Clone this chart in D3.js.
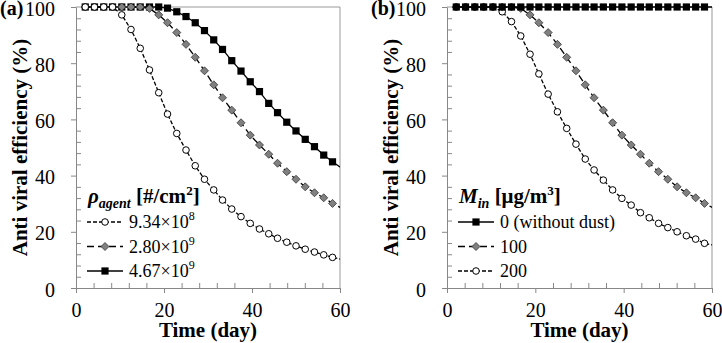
<!DOCTYPE html>
<html>
<head>
<meta charset="utf-8">
<script src="https://cdn.jsdelivr.net/npm/d3@7"></script>
<style>
  body { margin: 0; background: #fff; }
  svg { display: block; }
  svg text { font-family: "Liberation Serif", "Times New Roman", Tinos, "DejaVu Serif", serif; }
</style>
</head>
<body>
<div class="canvas"></div>
<script>
// time points (day) - last one only carries the line to the frame edge
const days = [2.1, 4.2, 6.3, 8.3, 10.4, 12.5, 14.6, 16.7, 18.8, 20.8, 22.9, 25.0, 27.1, 29.2, 31.3,
  33.3, 35.4, 37.5, 39.6, 41.7, 43.8, 45.8, 47.9, 50.0, 52.1, 54.2, 56.3, 58.3, 60.4];

// (a) agent density
const agentLow = [100, 100, 100, 100, 97.2, 92.0, 85.3, 77.6, 69.5, 61.9, 55.0, 49.1, 43.5, 38.7, 34.9,
  31.3, 28.1, 25.4, 23.0, 21.0, 19.3, 17.7, 16.3, 15.0, 13.8, 12.8, 11.8, 10.9, 10.2];
const agentMid = [100, 100, 100, 100, 100, 100, 100, 99.5, 97.2, 94.4, 90.9, 86.7, 82.1, 77.3, 72.3,
  67.7, 63.3, 58.8, 54.4, 50.9, 47.6, 44.4, 41.4, 38.7, 36.0, 33.9, 32.1, 30.1, 28.4];
const agentHigh = [100, 100, 100, 100, 100, 100, 100, 100, 100, 99.6, 98.3, 96.6, 94.4, 91.6, 88.3,
  84.9, 80.9, 77.2, 73.4, 69.9, 65.7, 62.4, 59.0, 55.9, 52.9, 50.3, 47.3, 44.9, 42.6];

// (b) dust concentration
const dust0 = [100, 100, 100, 100, 100, 100, 100, 100, 100, 100, 100, 100, 100, 100, 100,
  100, 100, 100, 100, 100, 100, 100, 100, 100, 100, 100, 100, 100, 100];
const dust100 = [100, 100, 100, 100, 100, 100, 100, 99.5, 97.2, 94.4, 90.9, 86.7, 82.1, 77.3, 72.3,
  67.7, 63.3, 58.8, 54.4, 50.9, 47.6, 44.4, 41.4, 38.7, 36.0, 33.9, 32.1, 30.1, 28.4];
const dust200 = [100, 100, 100, 100, 100, 98.3, 94.8, 89.7, 83.2, 76.2, 69.0, 62.7, 56.8, 51.2, 45.9,
  42.0, 38.4, 34.9, 31.9, 29.5, 26.8, 25.0, 23.0, 21.5, 20.0, 18.6, 17.4, 15.9, 15.2];

const xTicks = [0, 20, 40, 60];
const xMinor = [4, 8, 12, 16, 24, 28, 32, 36, 44, 48, 52, 56];
const yTicks = [0, 20, 40, 60, 80, 100];
const yMinor = [4, 8, 12, 16, 24, 28, 32, 36, 44, 48, 52, 56, 64, 68, 72, 76, 84, 88, 92, 96];

const svgWidth = 722;
const svgHeight = 343;
const plotTop = 7, plotBottom = 288;

// line look for each kind of series
const looks = {
  circle: { dash: "4,2" },
  diamond: { dash: "7,4" },
  square: { dash: null }
};

const svg = d3.select('.canvas')
  .append('svg')
    .attr('width', svgWidth)
    .attr('height', svgHeight);

function marker(g, kind, cx, cy) {
  if (kind === "square") {
    g.append("rect").attr("x", cx - 3.6).attr("y", cy - 3.6).attr("width", 7.2).attr("height", 7.2)
      .attr("fill", "#000");
  } else if (kind === "diamond") {
    g.append("path").attr("d", `M${cx},${cy - 4}L${cx + 4},${cy}L${cx},${cy + 4}L${cx - 4},${cy}Z`)
      .attr("fill", "#808080").attr("stroke", "#333").attr("stroke-width", 0.8);
  } else {
    g.append("circle").attr("cx", cx).attr("cy", cy).attr("r", 3.3)
      .attr("fill", "#fff").attr("stroke", "#000").attr("stroke-width", 1);
  }
}

function drawPanel(p) {
  const g = svg.append("g");

  const x = d3.scaleLinear().domain([0, 60]).range([p.x0, p.x1]);
  const y = d3.scaleLinear().domain([0, 100]).range([plotBottom, plotTop]);

  // frame (top + right)
  g.append("path")
    .attr("d", `M${p.x0},${plotTop}H${p.x1}V${plotBottom}`)
    .attr("fill", "none").attr("stroke", "#999").attr("stroke-width", 1);

  // minor ticks point inward
  const yMin = g.append("g").attr("transform", `translate(${p.x0},0)`)
    .call(d3.axisLeft(y).tickValues(yMinor).tickSize(-5).tickFormat(""));
  yMin.select(".domain").remove();
  yMin.selectAll("line").attr("stroke", "#888");

  const xMin = g.append("g").attr("transform", `translate(0,${plotBottom})`)
    .call(d3.axisBottom(x).tickValues(xMinor).tickSize(-5).tickFormat(""));
  xMin.select(".domain").remove();
  xMin.selectAll("line").attr("stroke", "#888");

  const yAx = g.append("g").attr("transform", `translate(${p.x0},0)`)
    .call(d3.axisLeft(y).tickValues(yTicks).tickSizeInner(5).tickSizeOuter(0).tickPadding(16));
  const xAx = g.append("g").attr("transform", `translate(0,${plotBottom})`)
    .call(d3.axisBottom(x).tickValues(xTicks).tickSizeInner(5).tickSizeOuter(0).tickPadding(10));
  [yAx, xAx].forEach(ax => {
    ax.attr("font-family", null);
    ax.select(".domain").attr("stroke", "#888");
    ax.selectAll("line").attr("stroke", "#888");
    ax.selectAll("text").attr("font-size", 20).attr("fill", "#000");
  });
  yAx.selectAll("text").attr("dy", "0.4em");

  // panel letter
  g.append("text").attr("x", p.x0 - 76).attr("y", plotTop + 8)
    .attr("font-size", 20).attr("font-weight", "bold").text(p.letter);

  // axis titles
  g.append("text")
    .attr("transform", `translate(${p.x0 - 49},${(plotTop + plotBottom) / 2}) rotate(-90)`)
    .attr("text-anchor", "middle").attr("font-size", 21).attr("font-weight", "bold")
    .text("Anti viral efficiency (%)");
  g.append("text")
    .attr("x", (p.x0 + p.x1) / 2).attr("y", 337)
    .attr("text-anchor", "middle").attr("font-size", 21).attr("font-weight", "bold")
    .text("Time (day)");

  // series
  const clipId = "clip" + p.letter.replace(/\W/g, "");
  svg.append("clipPath").attr("id", clipId)
    .append("rect").attr("x", p.x0).attr("y", 0).attr("width", p.x1 - p.x0).attr("height", plotBottom);

  const line = d3.line().x((d, i) => x(days[i])).y(d => y(d));

  p.series.slice().reverse().forEach(s => {
    g.append("path").datum(s.values)
      .attr("clip-path", `url(#${clipId})`)
      .attr("d", line)
      .attr("fill", "none").attr("stroke", "#000").attr("stroke-width", 1.3)
      .attr("stroke-dasharray", looks[s.kind].dash);
    const mg = g.append("g");
    s.values.forEach((v, i) => {
      if (days[i] <= 60) marker(mg, s.kind, x(days[i]), y(v));
    });
  });

  // legend
  const lg = g.append("g");
  const title = lg.append("text").attr("x", p.x0 + 12).attr("y", 203)
    .attr("font-size", 21).attr("font-weight", "bold");
  title.append("tspan").attr("font-style", "italic").text(p.symbol);
  title.append("tspan").attr("font-style", "italic").attr("font-size", 14).attr("dy", 5).text(p.sub);
  title.append("tspan").attr("dy", -5).text(" [" + p.unit);
  title.append("tspan").attr("font-size", 13).attr("dy", -8).text(p.unitSup);
  title.append("tspan").attr("dy", 8).text("]");

  const rows = [222, 246.5, 271];
  p.series.forEach((s, i) => {
    const ry = rows[i];
    lg.append("line").attr("x1", p.x0 + 11).attr("x2", p.x0 + 47).attr("y1", ry).attr("y2", ry)
      .attr("stroke", "#000").attr("stroke-width", 1.3)
      .attr("stroke-dasharray", looks[s.kind].dash);
    marker(lg, s.kind, p.x0 + 29, ry);
    const t = lg.append("text").attr("x", p.x0 + 53).attr("y", ry + 6).attr("font-size", 18);
    t.append("tspan").text(s.label);
    if (s.exp) t.append("tspan").attr("font-size", 12).attr("dy", -8).text(s.exp);
  });
}

drawPanel({
  letter: "(a)", x0: 76, x1: 340,
  symbol: "ρ", sub: "agent", unit: "#/cm", unitSup: "2",
  series: [
    { label: "9.34×10", exp: "8", values: agentLow, kind: "circle" },
    { label: "2.80×10", exp: "9", values: agentMid, kind: "diamond" },
    { label: "4.67×10", exp: "9", values: agentHigh, kind: "square" }
  ]
});

drawPanel({
  letter: "(b)", x0: 447, x1: 712,
  symbol: "M", sub: "in", unit: "μg/m", unitSup: "3",
  series: [
    { label: "0 (without dust)", values: dust0, kind: "square" },
    { label: "100", values: dust100, kind: "diamond" },
    { label: "200", values: dust200, kind: "circle" }
  ]
});
</script>
</body>
</html>
